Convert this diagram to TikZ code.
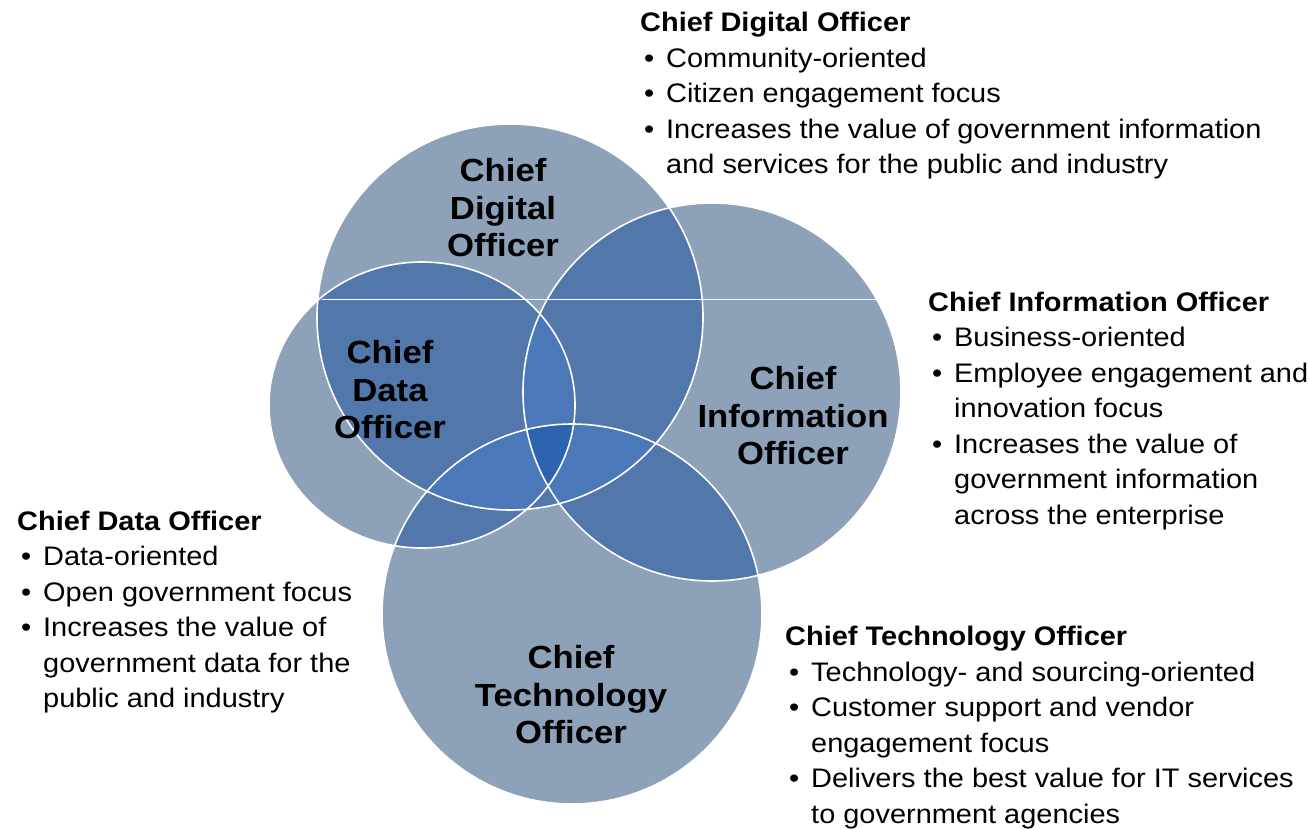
\documentclass[tikz,border=0pt]{standalone}
\usepackage{fontspec}
\setmainfont{Liberation Sans}
\newfontfamily\sidefont[FakeStretch=1.08]{Liberation Sans}
\newfontfamily\labfont[FakeStretch=1.085]{Liberation Sans}
\definecolor{cbase}{HTML}{8DA2B8}
\definecolor{cpair}{HTML}{5177AB}
\definecolor{ctriple}{HTML}{4B78B8}
\definecolor{cquad}{HTML}{2D62B0}
\newcommand\bitem{\makebox[26pt][l]{\hspace{4pt}\textbullet}}
\newcommand\bcont{\hspace*{26pt}}
\begin{document}
\begin{tikzpicture}[x=1pt,y=-1pt,
  sidetext/.style={anchor=base west, align=left, inner sep=0pt,
    font=\sidefont\fontsize{26.8}{35.5}\selectfont},
  circlabel/.style={anchor=base, align=center, inner sep=0pt,
    font=\labfont\bfseries\fontsize{32}{37.5}\selectfont},
  ring/.style={draw=white, line width=1.6pt}
]
\useasboundingbox (0,0) rectangle (1309,829);
\def\pDig{(510,317) circle[radius=193pt]}
\def\pDat{(422,405) ellipse[x radius=153pt, y radius=143pt]}
\def\pInf{(712,392) circle[radius=189pt]}
\def\pTec{(572,614) circle[radius=190pt]}
% base discs
\fill[cbase] \pDig;
\fill[cbase] \pDat;
\fill[cbase] \pInf;
\fill[cbase] \pTec;
% pair overlaps
\begin{scope}\clip \pDig; \fill[cpair] \pDat; \end{scope}
\begin{scope}\clip \pDig; \fill[cpair] \pInf; \end{scope}
\begin{scope}\clip \pDig; \fill[cpair] \pTec; \end{scope}
\begin{scope}\clip \pDat; \fill[cpair] \pInf; \end{scope}
\begin{scope}\clip \pDat; \fill[cpair] \pTec; \end{scope}
\begin{scope}\clip \pInf; \fill[cpair] \pTec; \end{scope}
% triple overlaps
\begin{scope}\clip \pDig; \clip \pDat; \fill[ctriple] \pInf; \end{scope}
\begin{scope}\clip \pDig; \clip \pDat; \fill[ctriple] \pTec; \end{scope}
\begin{scope}\clip \pDig; \clip \pInf; \fill[ctriple] \pTec; \end{scope}
\begin{scope}\clip \pDat; \clip \pInf; \fill[ctriple] \pTec; \end{scope}
% quadruple overlap
\begin{scope}\clip \pDig; \clip \pDat; \clip \pInf; \fill[cquad] \pTec; \end{scope}
% outlines
\draw[ring] \pDig;
\draw[ring] \pDat;
\draw[ring] \pInf;
\draw[ring] \pTec;
\draw[white, line width=0.7pt] (322,299.5) -- (900,299.5);
% circle labels (anchor = baseline of last line)
\node[circlabel] (lDig) at (503,256.5) {Chief\\Digital\\Officer};
\node[circlabel] (lDat) at (390,438.5) {Chief\\Data\\Officer};
\node[circlabel] (lInf) at (793,464.5) {Chief\\Information\\Officer};
\node[circlabel] (lTec) at (571,743.5) {Chief\\Technology\\Officer};
% side texts (anchor = baseline of last line)
\node[sidetext] (tDig) at (640,174) {{\bfseries Chief Digital Officer}\\
  \bitem Community-oriented\\
  \bitem Citizen engagement focus\\
  \bitem Increases the value of government information\\
  \bcont and services for the public and industry};
\node[sidetext] (tInf) at (928,524) {{\bfseries Chief Information Officer}\\
  \bitem Business-oriented\\
  \bitem Employee engagement and\\
  \bcont innovation focus\\
  \bitem Increases the value of\\
  \bcont government information\\
  \bcont across the enterprise};
\node[sidetext] (tDat) at (17,707.5) {{\bfseries Chief Data Officer}\\
  \bitem Data-oriented\\
  \bitem Open government focus\\
  \bitem Increases the value of\\
  \bcont government data for the\\
  \bcont public and industry};
\node[sidetext] (tTec) at (785,823) {{\bfseries Chief Technology Officer}\\
  \bitem Technology- and sourcing-oriented\\
  \bitem Customer support and vendor\\
  \bcont engagement focus\\
  \bitem Delivers the best value for IT services\\
  \bcont to government agencies};
\end{tikzpicture}
\end{document}
